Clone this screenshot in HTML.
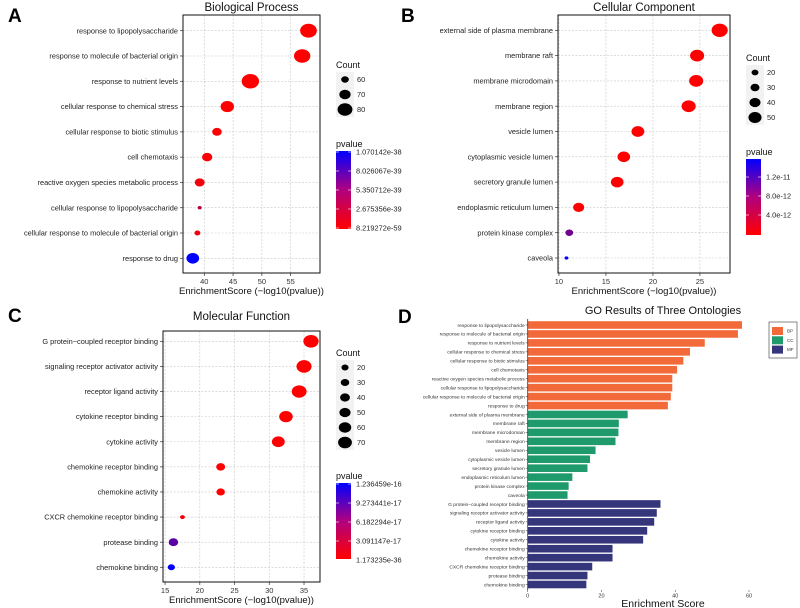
<!DOCTYPE html>
<html><head><meta charset="utf-8"><style>
body{margin:0;background:#fff;}
svg{display:block;font-family:"Liberation Sans",Arial,sans-serif;}
</style></head><body>
<svg id="fig" width="800" height="608" viewBox="0 0 800 608" xmlns="http://www.w3.org/2000/svg"></svg>
<script>
// ---------- data ----------
const bpTerms = ["response to lipopolysaccharide","response to molecule of bacterial origin","response to nutrient levels","cellular response to chemical stress","cellular response to biotic stimulus","cell chemotaxis","reactive oxygen species metabolic process","cellular response to lipopolysaccharide","cellular response to molecule of bacterial origin","response to drug"];
const bpScore = [58.1,57.0,48.0,44.0,42.2,40.5,39.2,39.2,38.8,38.0];
const bpCount = [85,84,87,76,65,67,66,50,55,74];
const bpP = [0,0,0,0,0,0,0.05e-38,0.3e-38,0.05e-38,1.07e-38];
const bpTicks = [40,45,50,55];
const bpPLabels = ["1.070142e-38","8.026067e-39","5.350712e-39","2.675356e-39","8.219272e-59"];
const bpCountLegend = [60,70,80];

const ccTerms = ["external side of plasma membrane","membrane raft","membrane microdomain","membrane region","vesicle lumen","cytoplasmic vesicle lumen","secretory granule lumen","endoplasmic reticulum lumen","protein kinase complex","caveola"];
const ccScore = [27.1,24.7,24.6,23.8,18.4,16.9,16.2,12.1,11.1,10.8];
const ccCount = [65,55,55,55,49,48,48,40,24,5];
const ccP = [0,0,0,0,0,0,0,0,0.9e-11,1.6e-11];
const ccTicks = [10,15,20,25];
const ccPLabels = ["1.2e-11","8.0e-12","4.0e-12"];
const ccCountLegend = [20,30,40,50];

const mfTerms = ["G protein\u2212coupled receptor binding","signaling receptor activator activity","receptor ligand activity","cytokine receptor binding","cytokine activity","chemokine receptor binding","chemokine activity","CXCR chemokine receptor binding","protease binding","chemokine binding"];
const mfScore = [36.0,35.0,34.3,32.4,31.3,23.0,23.0,17.5,16.2,15.9];
const mfCount = [81,80,78,68,63,33,30,2,37,20];
const mfP = [0,0,0,0,0,0,0,0.05e-16,0.8e-16,1.236e-16];
const mfTicks = [15,20,25,30,35];
const mfPLabels = ["1.236459e-16","9.273441e-17","6.182294e-17","3.091147e-17","1.173235e-36"];
const mfCountLegend = [20,30,40,50,60,70];

const dTicks = [0,20,40,60];
const dCats = ["BP","CC","MF"];

// ---------- helpers ----------
const svg = document.getElementById('fig');
const NS = "http://www.w3.org/2000/svg";
function mk(tag, attrs, parent, text){
  const e = document.createElementNS(NS, tag);
  for (const k in attrs) e.setAttribute(k, attrs[k]);
  if (text !== undefined) e.textContent = text;
  (parent || svg).appendChild(e);
  return e;
}
function col(t){ // 0 red -> 1 blue
  t = Math.max(0, Math.min(1, t));
  const r = Math.round(255*(1-t)), b = Math.round(255*t);
  return `rgb(${r},0,${b})`;
}
const defs = mk('defs', {});
const lg = mk('linearGradient', {id:'pg', x1:0, y1:1, x2:0, y2:0}, defs);
mk('stop', {offset:'0', 'stop-color':'#ff0000'}, lg);
mk('stop', {offset:'0.5', 'stop-color':'#b0007f'}, lg);
mk('stop', {offset:'1', 'stop-color':'#0000ff'}, lg);

const SX = 1.2; // horizontal stretch of markers

function dotPanel(cfg){
  const g = mk('g', {});
  
  
  const {x0,x1,y0,y1,xmin,xmax,ry0,ry1} = cfg;
  const sx = v => x0 + (v - xmin) / (xmax - xmin) * (x1 - x0);
  const n = cfg.terms.length;
  const sy = i => ry0 + i * (ry1 - ry0) / (n - 1);
  const t = mk('text', {x:(x0+x1)/2, y:cfg.titleY, 'font-size':11.5, 'text-anchor':'middle', fill:'#111'}, g, cfg.title);
  
  
  const lab = mk('text', {x:cfg.labX, y:cfg.labY, 'font-size':19, 'font-weight':'bold', fill:'#000'}, g, cfg.letter);
  
  
  cfg.ticks.forEach(v => {
    mk('line', {x1:sx(v), x2:sx(v), y1:y0, y2:y1, stroke:'#c8c8c8', 'stroke-width':0.6, 'stroke-dasharray':'2,1.5'}, g);
    mk('line', {x1:sx(v), x2:sx(v), y1:y1, y2:y1+3, stroke:'#333', 'stroke-width':0.7}, g);
    const tl = mk('text', {x:sx(v), y:y1+11, 'font-size':7.5, 'text-anchor':'middle', fill:'#333'}, g, v);
    
    
  });
  cfg.terms.forEach((term, i) => {
    mk('line', {x1:x0, x2:x1, y1:sy(i), y2:sy(i), stroke:'#c8c8c8', 'stroke-width':0.6, 'stroke-dasharray':'2,1.5'}, g);
    mk('line', {x1:x0-3, x2:x0, y1:sy(i), y2:sy(i), stroke:'#333', 'stroke-width':0.7}, g);
    const yl = mk('text', {x:x0-5, y:sy(i)+2.6, 'font-size':7.4, 'text-anchor':'end', fill:'#222'}, g, term);
    
    
  });
  mk('rect', {x:x0, y:y0, width:x1-x0, height:y1-y0, fill:'none', stroke:'#111', 'stroke-width':1}, g);
  cfg.terms.forEach((term, i) => {
    const r = cfg.rf(cfg.count[i]);
    const c = mk('ellipse', {cx:sx(cfg.score[i]), cy:sy(i), rx:(r*SX).toFixed(2), ry:r.toFixed(2), fill:col(cfg.p[i]/cfg.pmax)}, g);
    
    
  });
  const xt = mk('text', {x:(x0+x1)/2, y:y1+21, 'font-size':9.5, 'text-anchor':'middle', fill:'#111'}, g, 'EnrichmentScore (\u2212log10(pvalue))');
  
  
  const L = cfg.leg;
  const ct = mk('text', {x:L.x, y:L.cy, 'font-size':9, fill:'#111'}, g, 'Count');
  
  
  mk('rect', {x:L.x, y:L.cy+4, width:18, height:cfg.countLegend.length*L.cstep, fill:'#f2f2f2'}, g);
  cfg.countLegend.forEach((v, k) => {
    const yy = L.cy + 4 + L.cstep*(k+0.5);
    const r = cfg.rf(v);
    const cc = mk('ellipse', {cx:L.x+9, cy:yy, rx:r*SX, ry:r, fill:'#000'}, g);
    
    
    mk('text', {x:L.x+21, y:yy+2.6, 'font-size':7.4, fill:'#222'}, g, v);
  });
  const pt = mk('text', {x:L.x, y:L.py, 'font-size':9, fill:'#111'}, g, 'pvalue');
  
  
  const bar = mk('rect', {x:L.x, y:L.py+4, width:15, height:L.ph, fill:'url(#pg)'}, g);
  
  
  cfg.pLabels.forEach((s, k) => {
    const yy = L.py + 4 + L.plOff + k*L.plStep;
    mk('line', {x1:L.x, x2:L.x+3, y1:yy, y2:yy, stroke:'#fff', 'stroke-width':0.6}, g);
    mk('line', {x1:L.x+12, x2:L.x+15, y1:yy, y2:yy, stroke:'#fff', 'stroke-width':0.6}, g);
    mk('text', {x:L.x+20, y:yy+2.6, 'font-size':7.4, fill:'#222'}, g, s);
  });
}

dotPanel({name:'panel-a-biological-process', title:'Biological Process', letter:'A', labX:8, labY:22, titleY:11,
  terms:bpTerms, score:bpScore, count:bpCount, p:bpP, pmax:1.070142e-38, ticks:bpTicks, pLabels:bpPLabels, countLegend:bpCountLegend,
  x0:183, x1:320, y0:15, y1:273, xmin:36.3, xmax:60.1, ry0:30.7, ry1:258.3,
  rf:c => Math.max(1.3, 3.2 + (c-60)*0.15),
  leg:{x:336, cy:68, cstep:15, py:147, ph:78, plOff:1, plStep:19}});

dotPanel({name:'panel-b-cellular-component', title:'Cellular Component', letter:'B', labX:401, labY:22, titleY:11,
  terms:ccTerms, score:ccScore, count:ccCount, p:ccP, pmax:1.6e-11, ticks:ccTicks, pLabels:ccPLabels, countLegend:ccCountLegend,
  x0:558, x1:730, y0:15, y1:273, xmin:9.9, xmax:28.2, ry0:30.3, ry1:258,
  rf:c => Math.max(1.3, 2.9 + (c-20)*0.085),
  leg:{x:746, cy:61, cstep:15, py:155, ph:76, plOff:18, plStep:19}});

dotPanel({name:'panel-c-molecular-function', title:'Molecular Function', letter:'C', labX:8, labY:322, titleY:320,
  terms:mfTerms, score:mfScore, count:mfCount, p:mfP, pmax:1.236459e-16, ticks:mfTicks, pLabels:mfPLabels, countLegend:mfCountLegend,
  x0:163, x1:320, y0:331, y1:582, xmin:14.7, xmax:37.3, ry0:341.3, ry1:567.3,
  rf:c => Math.max(1.4, 3.0 + (c-20)*0.055),
  leg:{x:336, cy:356, cstep:15, py:479, ph:76, plOff:1, plStep:19}});

// ---------- panel D ----------
(function(){
  const g = mk('g', {});
  
  
  const colors = {BP:'#f26a3a', CC:'#1e9a6c', MF:'#34357b'};
  const x0 = 527.7, xs = v => x0 + v * (749 - x0) / 60;
  const terms = bpTerms.concat(ccTerms, mfTerms);
  const vals = bpScore.concat(ccScore, mfScore);
  const cats = bpTerms.map(()=>'BP').concat(ccTerms.map(()=>'CC'), mfTerms.map(()=>'MF'));
  const ry0 = 325, ry1 = 584.5, step = (ry1 - ry0) / (terms.length - 1);
  const lab = mk('text', {x:398, y:323, 'font-size':19, 'font-weight':'bold', fill:'#000'}, g, 'D');
  
  
  const t = mk('text', {x:663, y:314, 'font-size':11, 'text-anchor':'middle', fill:'#111'}, g, 'GO Results of Three Ontologies');
  
  
  terms.forEach((term, i) => {
    const y = ry0 + i*step;
    const b = mk('rect', {x:x0, y:y-3.8, width:xs(vals[i])-x0, height:7.6, fill:colors[cats[i]]}, g);
    
    
    mk('line', {x1:x0-2, x2:x0, y1:y, y2:y, stroke:'#333', 'stroke-width':0.5}, g);
    const l = mk('text', {x:x0-3, y:y+1.8, 'font-size':4.9, 'text-anchor':'end', fill:'#333'}, g, term);
    
    
  });
  mk('line', {x1:x0, x2:x0, y1:319, y2:590, stroke:'#333', 'stroke-width':0.8}, g);
  dTicks.forEach(v => {
    mk('line', {x1:xs(v), x2:xs(v), y1:590, y2:592, stroke:'#333', 'stroke-width':0.5}, g);
    const tl = mk('text', {x:xs(v), y:597.5, 'font-size':5.5, 'text-anchor':'middle', fill:'#333'}, g, v);
    
    
  });
  const xt = mk('text', {x:663, y:607, 'font-size':10.5, 'text-anchor':'middle', fill:'#111'}, g, 'Enrichment Score');
  
  
  const lb = mk('rect', {x:769, y:322, width:28, height:36, fill:'#fff', stroke:'#555', 'stroke-width':0.7}, g);
  
  
  dCats.forEach((c, k) => {
    const yy = 327 + k*9.3;
    const sw = mk('rect', {x:772, y:yy, width:11, height:8, fill:colors[c]}, g);
    
    
    mk('text', {x:787, y:yy+5.5, 'font-size':4.5, fill:'#333'}, g, c);
  });
})();
</script>
</body></html>
